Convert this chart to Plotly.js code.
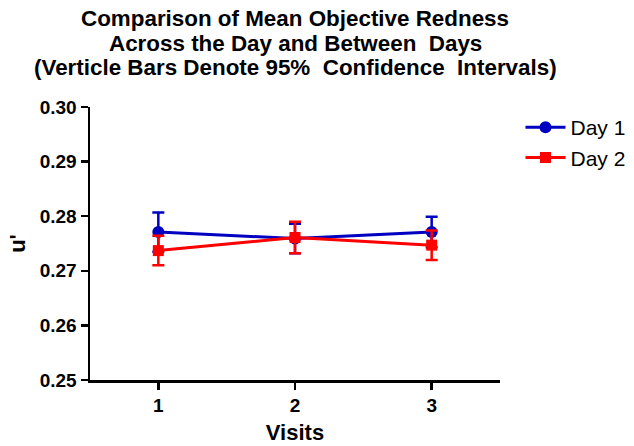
<!DOCTYPE html>
<html>
<head>
<meta charset="utf-8">
<script src="https://cdn.plot.ly/plotly-3.0.1.min.js"></script>
<style>html,body{margin:0;padding:0;background:#fff;}#chart{width:634px;height:446px;}</style>
</head>
<body>
<div id="chart"></div>
<script>
const visits = [1, 2, 3];
const day1Mean = [0.2771, 0.2759, 0.2771];
const day1CI = [0.0036, 0.0027, 0.0028];
const day2Mean = [0.2737, 0.2761, 0.2747];
const day2CI = [0.0027, 0.0029, 0.0027];
const yTicks = [0.25, 0.26, 0.27, 0.28, 0.29, 0.30];
const yTickText = ["0.25", "0.26", "0.27", "0.28", "0.29", "0.30"];
const titleLines = [
  "Comparison of Mean Objective Redness",
  "Across the Day and Between  Days",
  "(Verticle Bars Denote 95%  Confidence  Intervals)"
];

const font = "Liberation Sans, Arial, sans-serif";

const traces = [
  {
    x: visits, y: day1Mean, name: "Day 1", type: "scatter", mode: "lines+markers",
    line: {color: "#0000c0", width: 3},
    marker: {color: "#0000c0", symbol: "circle", size: 12},
    error_y: {type: "data", array: day1CI, visible: true, color: "#0000c0", thickness: 2.5, width: 6}
  },
  {
    x: visits, y: day2Mean, name: "Day 2", type: "scatter", mode: "lines+markers",
    line: {color: "#ff0000", width: 3},
    marker: {color: "#ff0000", symbol: "square", size: 11},
    error_y: {type: "data", array: day2CI, visible: true, color: "#ff0000", thickness: 2.5, width: 6}
  }
];

const titleY = [1.326, 1.234, 1.143];
const annotations = titleLines.map((t, i) => ({
  text: "<b>" + t + "</b>", xref: "paper", yref: "paper",
  x: 0.5, y: titleY[i], xanchor: "center", yanchor: "middle",
  showarrow: false, font: {family: font, size: 22.4, color: "#000"}
}));

const layout = {
  width: 634, height: 446,
  margin: {l: 90, r: 134, t: 107, b: 66, autoexpand: false},
  paper_bgcolor: "#fff", plot_bgcolor: "#fff",
  font: {family: font, color: "#000"},
  annotations: annotations,
  xaxis: {
    range: [0.5, 3.5], tickvals: visits, ticktext: ["1", "2", "3"],
    showline: true, linecolor: "#000", linewidth: 2.5, mirror: false,
    ticks: "outside", ticklen: 7, tickwidth: 2.5, tickcolor: "#000",
    showgrid: false, zeroline: false,
    tickfont: {family: font, size: 19, color: "#000", weight: "bold"},
    title: {text: "<b>Visits</b>", font: {family: font, size: 22, color: "#000"}, standoff: 10}
  },
  yaxis: {
    range: [0.25, 0.30], tickvals: yTicks, ticktext: yTickText,
    showline: true, linecolor: "#000", linewidth: 2.5,
    ticks: "outside", ticklen: 7, tickwidth: 2.5, tickcolor: "#000",
    showgrid: false, zeroline: false,
    tickfont: {family: font, size: 19, color: "#000", weight: "bold"},
    title: {text: "<b>u'</b>", font: {family: font, size: 22, color: "#000"}, standoff: 8}
  },
  legend: {
    x: 1.05, xanchor: "left", y: 1.0, yanchor: "top",
    font: {family: font, size: 21, color: "#000"},
    bgcolor: "rgba(0,0,0,0)", tracegroupgap: 6, itemwidth: 40
  },
  showlegend: true
};

Plotly.newPlot("chart", traces, layout, {displayModeBar: false, staticPlot: true});
</script>
</body>
</html>
